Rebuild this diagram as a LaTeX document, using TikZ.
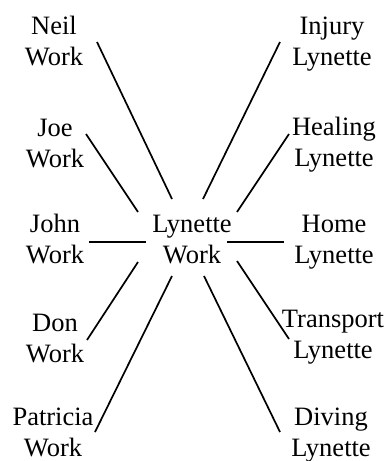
\documentclass[tikz,border=0pt]{standalone}
\usepackage{fontspec}
\setmainfont{Liberation Serif}
\begin{document}
\begin{tikzpicture}[x=1pt,y=-1pt,
  lbl/.style={align=center,inner sep=0pt,outer sep=0pt,font=\fontsize{26.5}{31}\selectfont},
  conn/.style={line width=1.7pt}]
\useasboundingbox (0,0) rectangle (385,461);
\node[lbl] (c) at (192,242) {\strut Lynette\\\strut Work};
\node[lbl] (neil) at (54,43.5) {\strut Neil\\\strut Work};
\node[lbl] (joe) at (55,145.3) {\strut Joe\\\strut Work};
\node[lbl] (john) at (55,241.6) {\strut John\\\strut Work};
\node[lbl] (don) at (55,340.3) {\strut Don\\\strut Work};
\node[lbl] (pat) at (53,435) {\strut Patricia\\\strut Work};
\node[lbl] (injury) at (332,43.3) {\strut Injury\\\strut Lynette};
\node[lbl] (healing) at (334,145) {\strut Healing\\\strut Lynette};
\node[lbl] (home) at (334,241.6) {\strut Home\\\strut Lynette};
\node[lbl] (transport) at (333,337) {\strut Transport\\\strut Lynette};
\node[lbl] (diving) at (331,435) {\strut Diving\\\strut Lynette};
\draw[conn] ([shift={(43,-1.5)}]neil.center) -- ([shift={(-20,-43)}]c.center);
\draw[conn] ([shift={(31,-11.3)}]joe.center) -- ([shift={(-54,-30)}]c.center);
\draw[conn] ([shift={(34,0.4)}]john.center) -- ([shift={(-46,0)}]c.center);
\draw[conn] ([shift={(-54,20)}]c.center) -- ([shift={(32,-0.3)}]don.center);
\draw[conn] ([shift={(-20,34)}]c.center) -- ([shift={(42,-3)}]pat.center);
\draw[conn] ([shift={(-52,-1.3)}]injury.center) -- ([shift={(11,-43)}]c.center);
\draw[conn] ([shift={(-45,-11)}]healing.center) -- ([shift={(45,-30)}]c.center);
\draw[conn] ([shift={(35,0)}]c.center) -- ([shift={(-50,0.4)}]home.center);
\draw[conn] ([shift={(45,19)}]c.center) -- ([shift={(-44,2)}]transport.center);
\draw[conn] ([shift={(12,34)}]c.center) -- ([shift={(-51,-3)}]diving.center);
\end{tikzpicture}
\end{document}
